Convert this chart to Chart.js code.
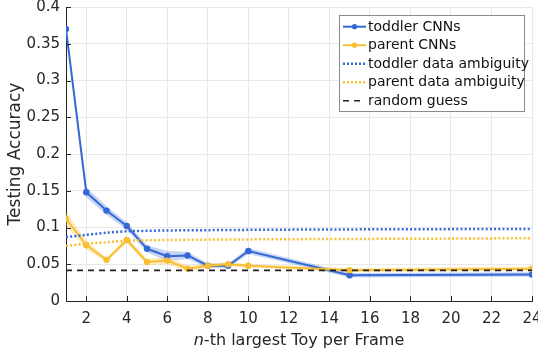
<!DOCTYPE html>
<html lang="en">
<head>
    <meta charset="UTF-8">
    <title>Testing Accuracy</title>
    <script src="https://cdn.jsdelivr.net/npm/chart.js"></script>
    <style>
        html, body { margin:0; padding:0; background:#fff; }
    </style>
</head>
<body>
    <div style="width:538px; height:355px;">
        <canvas id="grafico1" width="538" height="355"></canvas>
    </div>

    <script>
        // valores
        const xs = [1, 2, 3, 4, 5, 6, 7, 8, 9, 10, 15, 24]
        const toddlerCnn = [0.370, 0.148, 0.123, 0.102, 0.071, 0.061, 0.062, 0.048, 0.048, 0.068, 0.035, 0.036]
        const toddlerErr = [0.002, 0.007, 0.006, 0.005, 0.005, 0.007, 0.005, 0.003, 0.003, 0.004, 0.003, 0.003]
        const parentCnn = [0.112, 0.076, 0.056, 0.083, 0.053, 0.055, 0.044, 0.048, 0.050, 0.048, 0.042, 0.044]
        const parentErr = [0.009, 0.006, 0.003, 0.004, 0.004, 0.005, 0.004, 0.003, 0.003, 0.002, 0.003, 0.003]

        const ambX = [1,2,3,4,5,6,7,8,9,10,11,12,13,14,15,16,17,18,19,20,21,22,23,24]
        const toddlerAmb = [0.087, 0.090, 0.093, 0.095, 0.0955, 0.096, 0.0962, 0.0964, 0.0966, 0.0968, 0.097, 0.0971,
                            0.0972, 0.0973, 0.0974, 0.0975, 0.0976, 0.0977, 0.0977, 0.0978, 0.0979, 0.098, 0.098, 0.098]
        const parentAmb = [0.075, 0.078, 0.080, 0.082, 0.0825, 0.083, 0.0832, 0.0835, 0.0837, 0.0838, 0.084, 0.0841,
                           0.0842, 0.0843, 0.0844, 0.0845, 0.0846, 0.0847, 0.0848, 0.0849, 0.085, 0.0852, 0.0853, 0.0855]
        const guessX = [1, 24]
        const guessY = [0.0417, 0.0417]

        const xTicks = [2, 4, 6, 8, 10, 12, 14, 16, 18, 20, 22, 24]
        const yTicks = [0, 0.05, 0.1, 0.15, 0.2, 0.25, 0.3, 0.35, 0.4]
        const legendLabels = ["toddler CNNs", "parent CNNs", "toddler data ambiguity", "parent data ambiguity", "random guess"]

        const azul = "rgb(52,104,212)"
        const amarelo = "rgb(250,190,50)"
        const azulClaro = "rgba(52,104,212,0.28)"
        const amareloClaro = "rgba(250,190,50,0.3)"
        const fonte = "'DejaVu Sans', sans-serif"
        const texto = "#262626"

        const pts = (xv, yv) => xv.map((x, i) => ({x: x, y: yv[i]}))
        const band = (yv, ev, s) => xs.map((x, i) => ({x: x, y: yv[i] + s * ev[i]}))

        // legenda desenhada dentro do grafico
        const legendaPlugin = {
          id: "legenda",
          afterDraw(chart) {
            const c = chart.ctx
            const x0 = 339, y0 = 15, w = 185, h = 96
            c.save()
            c.fillStyle = "#fff"
            c.fillRect(x0, y0, w, h)
            c.strokeStyle = "#8a8a8a"
            c.lineWidth = 1
            c.strokeRect(x0 + 0.5, y0 + 0.5, w, h)
            const estilos = [
              {cor: azul, dash: [], lw: 2, pt: true, fim: 366},
              {cor: amarelo, dash: [], lw: 2, pt: true, fim: 366},
              {cor: azul, dash: [2, 2], lw: 2.5, pt: false, fim: 366},
              {cor: amarelo, dash: [2, 2], lw: 2.5, pt: false, fim: 366},
              {cor: "#222", dash: [6, 5], lw: 1.6, pt: false, fim: 360}
            ]
            c.font = "14px " + fonte
            c.textBaseline = "middle"
            legendLabels.forEach((lab, i) => {
              const y = 26.7 + i * 18.5
              const e = estilos[i]
              c.strokeStyle = e.cor
              c.lineWidth = e.lw
              c.setLineDash(e.dash)
              c.beginPath()
              c.moveTo(343, y)
              c.lineTo(e.fim, y)
              c.stroke()
              c.setLineDash([])
              if (e.pt) {
                c.fillStyle = e.cor
                c.beginPath()
                c.arc(354.5, y, 2.6, 0, Math.PI * 2)
                c.fill()
              }
              c.fillStyle = "#111"
              c.fillText(lab, 368, y + 0.5)
            })
            c.restore()
          }
        }

        // ticks para dentro e titulo do eixo x com n em italico
        const eixosPlugin = {
          id: "eixos",
          afterDatasetsDraw(chart) {
            const c = chart.ctx
            const sx = chart.scales.x, sy = chart.scales.y
            c.save()
            c.strokeStyle = "#262626"
            c.lineWidth = 1
            c.beginPath()
            xTicks.forEach(v => {
              const px = Math.round(sx.getPixelForValue(v)) + 0.5
              c.moveTo(px, sy.bottom)
              c.lineTo(px, sy.bottom - 5)
            })
            yTicks.forEach(v => {
              const py = Math.round(sy.getPixelForValue(v)) + 0.5
              c.moveTo(sx.left, py)
              c.lineTo(sx.left + 5, py)
            })
            c.stroke()
            c.restore()
          },
          afterDraw(chart) {
            const c = chart.ctx
            const sx = chart.scales.x
            c.save()
            c.fillStyle = texto
            c.textBaseline = "middle"
            const a = "n", b = "-th largest Toy per Frame"
            c.font = "italic 16px " + fonte
            const wa = c.measureText(a).width
            c.font = "16px " + fonte
            const wb = c.measureText(b).width
            let x = (sx.left + sx.right) / 2 - (wa + wb) / 2
            c.font = "italic 16px " + fonte
            c.fillText(a, x, 341)
            c.font = "16px " + fonte
            c.fillText(b, x + wa, 341)
            c.restore()
          }
        }

        const ctx = document.getElementById("grafico1")

        let grafico1 = new Chart(ctx, {
          type: "line",
          data: {
            datasets: [
              {data: band(toddlerCnn, toddlerErr, 1), borderWidth: 0, pointRadius: 0, fill: "+1", backgroundColor: azulClaro, order: 20},
              {data: band(toddlerCnn, toddlerErr, -1), borderWidth: 0, pointRadius: 0, fill: false, order: 20},
              {data: band(parentCnn, parentErr, 1), borderWidth: 0, pointRadius: 0, fill: "+1", backgroundColor: amareloClaro, order: 19},
              {data: band(parentCnn, parentErr, -1), borderWidth: 0, pointRadius: 0, fill: false, order: 19},
              {label: legendLabels[0], data: pts(xs, toddlerCnn), borderColor: azul, backgroundColor: azul, borderWidth: 2, pointRadius: 3.2, pointBorderWidth: 0, order: 5},
              {label: legendLabels[1], data: pts(xs, parentCnn), borderColor: amarelo, backgroundColor: amarelo, borderWidth: 2, pointRadius: 3.2, pointBorderWidth: 0, order: 4},
              {label: legendLabels[2], data: pts(ambX, toddlerAmb), borderColor: azul, borderWidth: 2.5, borderDash: [2, 2.2], pointRadius: 0, order: 3},
              {label: legendLabels[3], data: pts(ambX, parentAmb), borderColor: amarelo, borderWidth: 2.5, borderDash: [2, 2.2], pointRadius: 0, order: 2},
              {label: legendLabels[4], data: pts(guessX, guessY), borderColor: "#222", borderWidth: 1.6, borderDash: [6, 5], pointRadius: 0, order: 1}
            ]
          },
          options: {
            responsive: false,
            animation: false,
            events: [],
            layout: {padding: {top: 7, right: 6, left: 0, bottom: 0}},
            plugins: {legend: {display: false}, tooltip: {enabled: false}},
            scales: {
              x: {
                type: "linear",
                min: 1,
                max: 24,
                afterBuildTicks: s => { s.ticks = xTicks.map(v => ({value: v})) },
                afterFit: s => { s.height = 54; s.paddingLeft = 0; s.paddingRight = 0 },
                ticks: {color: texto, font: {family: fonte, size: 15}, padding: 9, maxRotation: 0, autoSkip: false},
                grid: {color: "#e8e8e8", drawTicks: false},
                border: {color: "#262626", width: 1}
              },
              y: {
                min: 0,
                max: 0.4,
                afterBuildTicks: s => { s.ticks = yTicks.map(v => ({value: v})) },
                afterFit: s => { s.width = 66; s.paddingTop = 0; s.paddingBottom = 0 },
                ticks: {color: texto, font: {family: fonte, size: 15}, padding: 6,
                        callback: v => String(+v.toFixed(2))},
                grid: {color: "#e8e8e8", drawTicks: false},
                border: {color: "#262626", width: 1},
                title: {display: true, text: "Testing Accuracy", color: texto,
                        font: {family: fonte, size: 17}, padding: {top: 5, bottom: 0}}
              }
            }
          },
          plugins: [eixosPlugin, legendaPlugin]
        })
    </script>
</body>
</html>
